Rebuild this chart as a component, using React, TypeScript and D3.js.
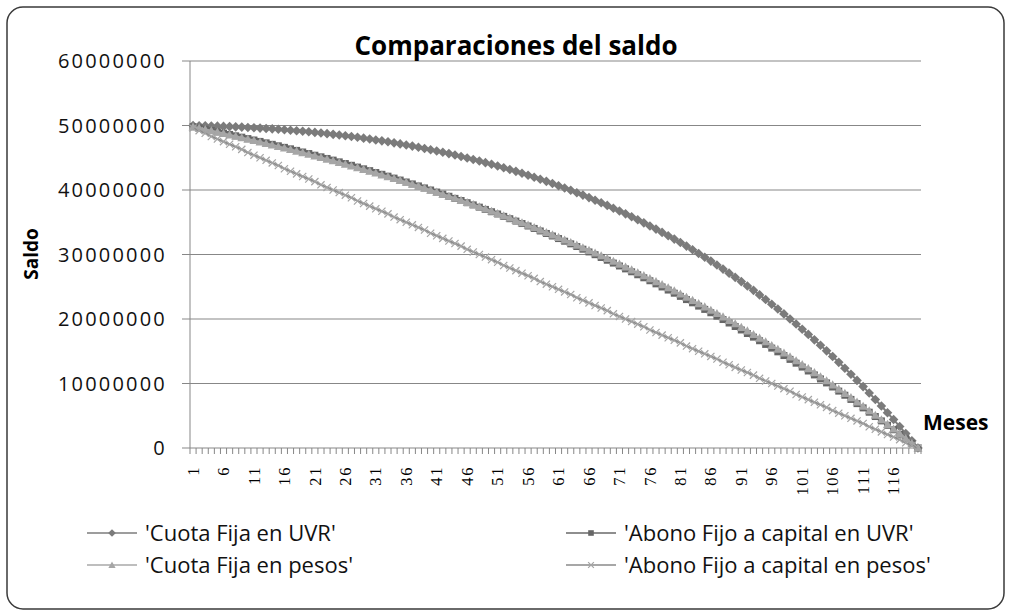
import React from 'react';
import * as d3 from 'd3';

// Saldo (millones de pesos) por mes
const months = d3.range(1, 121);

const cuotaFijaUVR = [
  49.99, 49.97, 49.95, 49.92, 49.90, 49.86, 49.83, 49.79, 49.75, 49.70,
  49.65, 49.60, 49.54, 49.48, 49.42, 49.35, 49.27, 49.19, 49.11, 49.03,
  48.93, 48.84, 48.74, 48.63, 48.52, 48.41, 48.29, 48.17, 48.04, 47.90,
  47.76, 47.62, 47.47, 47.31, 47.15, 46.98, 46.81, 46.63, 46.44, 46.25,
  46.05, 45.85, 45.64, 45.43, 45.20, 44.97, 44.74, 44.49, 44.24, 43.99,
  43.72, 43.45, 43.17, 42.89, 42.59, 42.29, 41.98, 41.66, 41.34, 41.00,
  40.66, 40.31, 39.95, 39.58, 39.21, 38.82, 38.42, 38.02, 37.61, 37.18,
  36.75, 36.30, 35.85, 35.39, 34.91, 34.43, 33.94, 33.43, 32.91, 32.39,
  31.85, 31.30, 30.73, 30.16, 29.58, 28.98, 28.37, 27.74, 27.11, 26.46,
  25.80, 25.12, 24.44, 23.74, 23.02, 22.29, 21.55, 20.79, 20.01, 19.23,
  18.42, 17.61, 16.77, 15.92, 15.06, 14.18, 13.28, 12.36, 11.43, 10.48,
  9.52, 8.53, 7.53, 6.51, 5.47, 4.41, 3.34, 2.24, 1.13, 0.00,
];

const abonoFijoUVR = [
  49.81, 49.62, 49.42, 49.22, 49.02, 48.82, 48.61, 48.40, 48.19, 47.97,
  47.75, 47.53, 47.31, 47.08, 46.85, 46.61, 46.38, 46.14, 45.89, 45.65,
  45.39, 45.14, 44.89, 44.63, 44.36, 44.10, 43.83, 43.55, 43.28, 43.00,
  42.71, 42.43, 42.14, 41.84, 41.54, 41.24, 40.94, 40.63, 40.32, 40.00,
  39.68, 39.36, 39.03, 38.70, 38.37, 38.03, 37.69, 37.34, 36.99, 36.63,
  36.28, 35.91, 35.55, 35.18, 34.80, 34.42, 34.04, 33.65, 33.26, 32.87,
  32.47, 32.06, 31.65, 31.24, 30.82, 30.40, 29.97, 29.54, 29.11, 28.67,
  28.22, 27.77, 27.32, 26.86, 26.39, 25.93, 25.45, 24.97, 24.49, 24.00,
  23.51, 23.01, 22.51, 22.00, 21.49, 20.97, 20.44, 19.92, 19.38, 18.84,
  18.30, 17.75, 17.19, 16.63, 16.06, 15.49, 14.91, 14.33, 13.74, 13.15,
  12.55, 11.94, 11.33, 10.71, 10.09, 9.46, 8.82, 8.18, 7.53, 6.88,
  6.22, 5.55, 4.88, 4.20, 3.52, 2.83, 2.13, 1.43, 0.72, 0.00,
];

const cuotaFijaPesos = [
  49.80, 49.60, 49.39, 49.19, 48.98, 48.77, 48.55, 48.34, 48.12, 47.90,
  47.68, 47.45, 47.22, 46.99, 46.76, 46.52, 46.28, 46.04, 45.80, 45.55,
  45.30, 45.05, 44.79, 44.54, 44.28, 44.01, 43.74, 43.47, 43.20, 42.93,
  42.65, 42.36, 42.08, 41.79, 41.50, 41.20, 40.91, 40.61, 40.30, 39.99,
  39.68, 39.36, 39.05, 38.72, 38.40, 38.07, 37.74, 37.40, 37.06, 36.71,
  36.36, 36.01, 35.66, 35.29, 34.93, 34.56, 34.19, 33.81, 33.43, 33.05,
  32.66, 32.26, 31.87, 31.46, 31.06, 30.64, 30.23, 29.81, 29.38, 28.95,
  28.52, 28.08, 27.63, 27.18, 26.73, 26.27, 25.80, 25.33, 24.86, 24.37,
  23.89, 23.39, 22.90, 22.39, 21.89, 21.37, 20.85, 20.33, 19.80, 19.26,
  18.71, 18.16, 17.61, 17.04, 16.48, 15.90, 15.32, 14.73, 14.14, 13.54,
  12.93, 12.31, 11.69, 11.06, 10.43, 9.79, 9.14, 8.48, 7.82, 7.15,
  6.47, 5.78, 5.08, 4.38, 3.67, 2.95, 2.23, 1.49, 0.75, 0.00,
];

const abonoFijoPesos = [
  49.6, 49.2, 48.8, 48.3, 47.9, 47.5, 47.1, 46.7, 46.3, 45.8,
  45.4, 45.0, 44.6, 44.2, 43.8, 43.3, 42.9, 42.5, 42.1, 41.7,
  41.3, 40.8, 40.4, 40.0, 39.6, 39.2, 38.8, 38.3, 37.9, 37.5,
  37.1, 36.7, 36.3, 35.8, 35.4, 35.0, 34.6, 34.2, 33.8, 33.3,
  32.9, 32.5, 32.1, 31.7, 31.3, 30.8, 30.4, 30.0, 29.6, 29.2,
  28.8, 28.3, 27.9, 27.5, 27.1, 26.7, 26.3, 25.8, 25.4, 25.0,
  24.6, 24.2, 23.8, 23.3, 22.9, 22.5, 22.1, 21.7, 21.3, 20.8,
  20.4, 20.0, 19.6, 19.2, 18.8, 18.3, 17.9, 17.5, 17.1, 16.7,
  16.3, 15.8, 15.4, 15.0, 14.6, 14.2, 13.8, 13.3, 12.9, 12.5,
  12.1, 11.7, 11.3, 10.8, 10.4, 10.0, 9.6, 9.2, 8.8, 8.3,
  7.9, 7.5, 7.1, 6.7, 6.3, 5.8, 5.4, 5.0, 4.6, 4.2,
  3.8, 3.3, 2.9, 2.5, 2.1, 1.7, 1.3, 0.8, 0.4, 0.0,
];

const yTicks = [0, 10, 20, 30, 40, 50, 60];
const xLabelMonths = d3.range(1, 121, 5);

const seriesNames = [
  "'Cuota Fija en UVR'",
  "'Abono Fijo a capital en UVR'",
  "'Cuota Fija en pesos'",
  "'Abono Fijo a capital en pesos'",
];

const W = 1009;
const H = 613;
const font = "'Open Sans', 'Noto Sans', sans-serif";

type MarkerKind = 'diamond' | 'square' | 'triangle' | 'x';

const Marker = ({ kind, x, y, color, s = 1 }: { kind: MarkerKind; x: number; y: number; color: string; s?: number }) => {
  if (kind === 'diamond') {
    const r = 4.8 * s;
    return <path d={`M${x},${y - r}L${x + r},${y}L${x},${y + r}L${x - r},${y}Z`} fill={color} />;
  }
  if (kind === 'square') {
    const r = 3.5 * s;
    return <rect x={x - r} y={y - r} width={2 * r} height={2 * r} fill={color} />;
  }
  if (kind === 'triangle') {
    const r = 4.5 * s;
    return <path d={`M${x},${y - r}L${x + r},${y + r * 0.8}L${x - r},${y + r * 0.8}Z`} fill={color} />;
  }
  const r = 3.6 * s;
  return (
    <path
      d={`M${x - r},${y - r}L${x + r},${y + r}M${x - r},${y + r}L${x + r},${y - r}`}
      stroke={color}
      strokeWidth={1.2}
      fill="none"
    />
  );
};

export default function App() {
  const x = d3.scaleBand<number>().domain(months).range([190, 921]);
  const y = d3.scaleLinear().domain([0, 60]).range([448, 61]);
  const cx = (m: number) => (x(m) as number) + x.bandwidth() / 2;

  const series = [
    { name: seriesNames[0], values: cuotaFijaUVR, kind: 'diamond' as MarkerKind, line: '#7d7d7d', mark: '#7b7b7b' },
    { name: seriesNames[1], values: abonoFijoUVR, kind: 'square' as MarkerKind, line: '#686868', mark: '#666666' },
    { name: seriesNames[2], values: cuotaFijaPesos, kind: 'triangle' as MarkerKind, line: '#a8a8a8', mark: '#a6a6a6' },
    { name: seriesNames[3], values: abonoFijoPesos, kind: 'x' as MarkerKind, line: '#8a8a8a', mark: '#a4a4a4' },
  ];

  const line = d3
    .line<number>()
    .x((_, i) => cx(months[i]))
    .y((v) => y(v));

  const boundaries = d3.range(0, 121).map((i) => 190 + i * x.bandwidth());

  const legendPos = [
    { lx: 87, ty: 533 },
    { lx: 566, ty: 533 },
    { lx: 87, ty: 565 },
    { lx: 566, ty: 565 },
  ];

  return (
    <svg
      width={W}
      height={H}
      style={{ position: 'fixed', left: 0, top: 0, background: '#fff' }}
      fontFamily={font}
    >
      <rect x={7} y={7} width={997} height={602} rx={16} fill="#fff" stroke="#3a3a3a" strokeWidth={1.5} />

      {/* gridlines and y axis */}
      {yTicks.map((t) => (
        <g key={t}>
          <line x1={182} x2={921} y1={y(t)} y2={y(t)} stroke="#878787" strokeWidth={1} />
          <text x={167} y={y(t)} dy="0.36em" textAnchor="end" fontSize={20} letterSpacing={2.2} fill="#111">
            {String(t * 1000000)}
          </text>
        </g>
      ))}
      <line x1={190} x2={190} y1={61} y2={448} stroke="#878787" strokeWidth={1} />

      {/* x axis ticks */}
      {boundaries.map((bx, i) => (
        <line key={i} x1={bx} x2={bx} y1={448} y2={454} stroke="#878787" strokeWidth={1} />
      ))}
      {xLabelMonths.map((m) => (
        <text
          key={m}
          transform={`translate(${cx(m)},466) rotate(-90)`}
          dy="0.34em"
          textAnchor="end"
          fontSize={16.5}
          letterSpacing={1.6}
          fontFamily="'Liberation Serif', 'DejaVu Serif', serif"
          fill="#000"
        >
          {m}
        </text>
      ))}

      {/* series */}
      {series.map((s) => (
        <g key={s.name}>
          <path d={line(s.values) || ''} fill="none" stroke={s.line} strokeWidth={2} />
          {s.values.map((v, i) => (
            <Marker key={i} kind={s.kind} x={cx(months[i])} y={y(v)} color={s.mark} />
          ))}
        </g>
      ))}

      {/* titles */}
      <text x={516} y={55} textAnchor="middle" fontSize={26} fontWeight="bold" fill="#000">
        Comparaciones del saldo
      </text>
      <text transform="translate(38,254) rotate(-90)" textAnchor="middle" fontSize={19} fontWeight="bold" fill="#000">
        Saldo
      </text>
      <text x={923} y={430} fontSize={21} fontWeight="bold" fill="#000">
        Meses
      </text>

      {/* legend */}
      {series.map((s, i) => {
        const p = legendPos[i];
        return (
          <g key={s.name}>
            <line x1={p.lx} x2={p.lx + 50} y1={p.ty} y2={p.ty} stroke={s.line} strokeWidth={1.5} />
            <Marker kind={s.kind} x={p.lx + 25} y={p.ty} color={s.mark} s={0.8} />
            <text x={p.lx + 58} y={p.ty} dy="0.36em" fontSize={22} fill="#111">
              {s.name}
            </text>
          </g>
        );
      })}
    </svg>
  );
}
